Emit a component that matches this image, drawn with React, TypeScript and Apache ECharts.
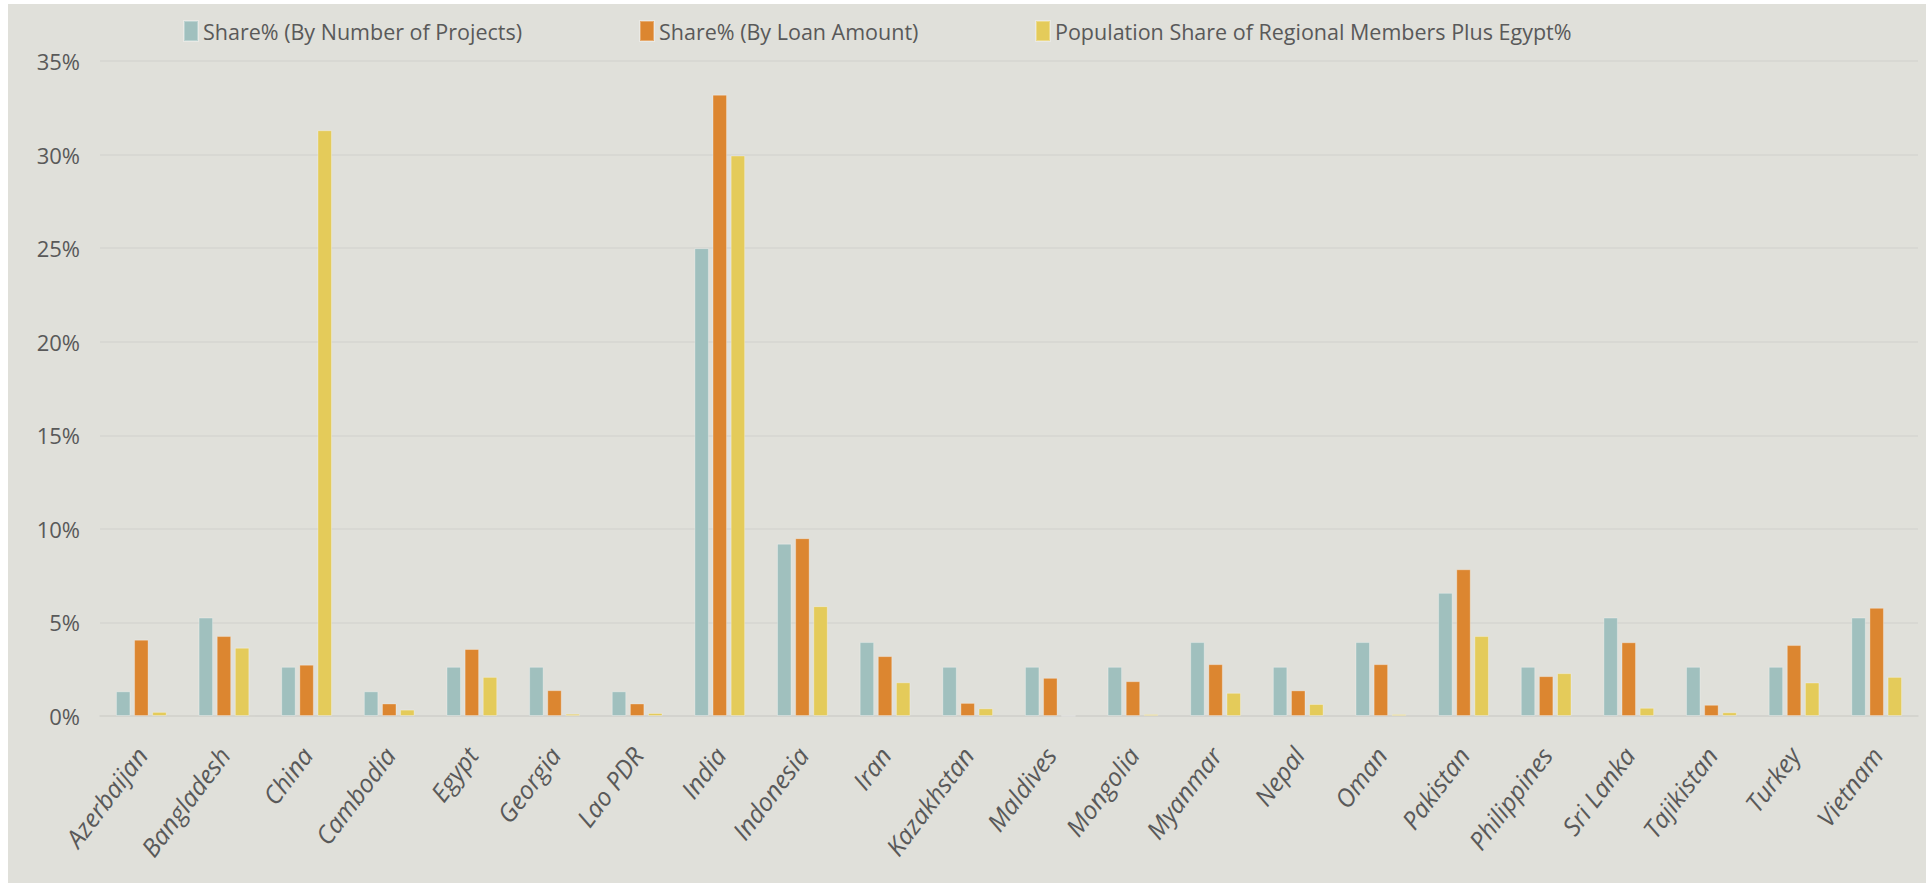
import React, { useEffect, useRef } from 'react';
import * as echarts from 'echarts';

const categories = [
  'Azerbaijan', 'Bangladesh', 'China', 'Cambodia', 'Egypt', 'Georgia', 'Lao PDR',
  'India', 'Indonesia', 'Iran', 'Kazakhstan', 'Maldives', 'Mongolia', 'Myanmar',
  'Nepal', 'Oman', 'Pakistan', 'Philippines', 'Sri Lanka', 'Tajikistan', 'Turkey', 'Vietnam',
];

const projectShare = [
  1.32, 5.26, 2.63, 1.32, 2.63, 2.63, 1.32, 25.0, 9.21, 3.95, 2.63,
  2.63, 2.63, 3.95, 2.63, 3.95, 6.58, 2.63, 5.26, 2.63, 2.63, 5.26,
];

const loanShare = [
  4.08, 4.27, 2.74, 0.67, 3.58, 1.38, 0.67, 33.2, 9.5, 3.2, 0.7,
  2.04, 1.86, 2.77, 1.37, 2.77, 7.84, 2.13, 3.94, 0.6, 3.79, 5.78,
];

const populationShare = [
  0.22, 3.65, 31.3, 0.34, 2.09, 0.12, 0.16, 29.95, 5.87, 1.8, 0.41,
  0.01, 0.1, 1.24, 0.64, 0.1, 4.27, 2.29, 0.44, 0.2, 1.79, 2.09,
];

const seriesNames = [
  'Share% (By Number of Projects)',
  'Share% (By Loan Amount)',
  'Population Share of Regional Members Plus Egypt%',
];

const colors = ['#A0C0BE', '#DC8630', '#E4CB5A'];
const legendLefts = [175, 631, 1027];

export default function App() {
  const ref = useRef<HTMLDivElement>(null);

  useEffect(() => {
    if (!ref.current) return;
    const chart = echarts.init(ref.current, null, { renderer: 'svg' });
    const dataSets = [projectShare, loanShare, populationShare];
    chart.setOption({
      animation: false,
      backgroundColor: '#E0E0DA',
      textStyle: { fontFamily: 'Open Sans' },
      legend: seriesNames.map((name, i) => ({
        data: [name],
        left: legendLefts[i],
        top: 16,
        padding: 0,
        itemWidth: 14,
        itemHeight: 20,
        icon: 'rect',
        selectedMode: false,
        textStyle: { fontFamily: 'Open Sans', fontSize: 21.5, color: '#595959' },
      })),
      grid: { left: 92, right: 8, top: 57, bottom: 167, containLabel: false },
      xAxis: {
        type: 'category',
        data: categories,
        axisLine: { show: true, lineStyle: { color: '#D2D2CD', width: 1.5 } },
        axisTick: { show: false },
        axisLabel: {
          rotate: 53,
          margin: 34,
          interval: 0,
          fontFamily: 'Open Sans',
          fontStyle: 'italic',
          fontSize: 25,
          color: '#595959',
        },
      },
      yAxis: {
        type: 'value',
        min: 0,
        max: 35,
        interval: 5,
        axisLine: { show: false },
        axisTick: { show: false },
        splitLine: { lineStyle: { color: '#D6D6D1', width: 1.5 } },
        axisLabel: {
          formatter: '{value}%',
          fontFamily: 'Open Sans',
          fontSize: 22,
          color: '#595959',
          margin: 20,
        },
      },
      series: seriesNames.map((name, i) => ({
        name,
        type: 'bar',
        data: dataSets[i],
        barWidth: 14.5,
        barGap: '25%',
        itemStyle: {
          color: colors[i],
          borderColor: 'rgba(255,255,255,0.3)',
          borderWidth: 1,
        },
      })),
    });
    return () => chart.dispose();
  }, []);

  return (
    <div
      ref={ref}
      style={{ position: 'absolute', left: 8, top: 4, width: 1918, height: 879 }}
    />
  );
}
